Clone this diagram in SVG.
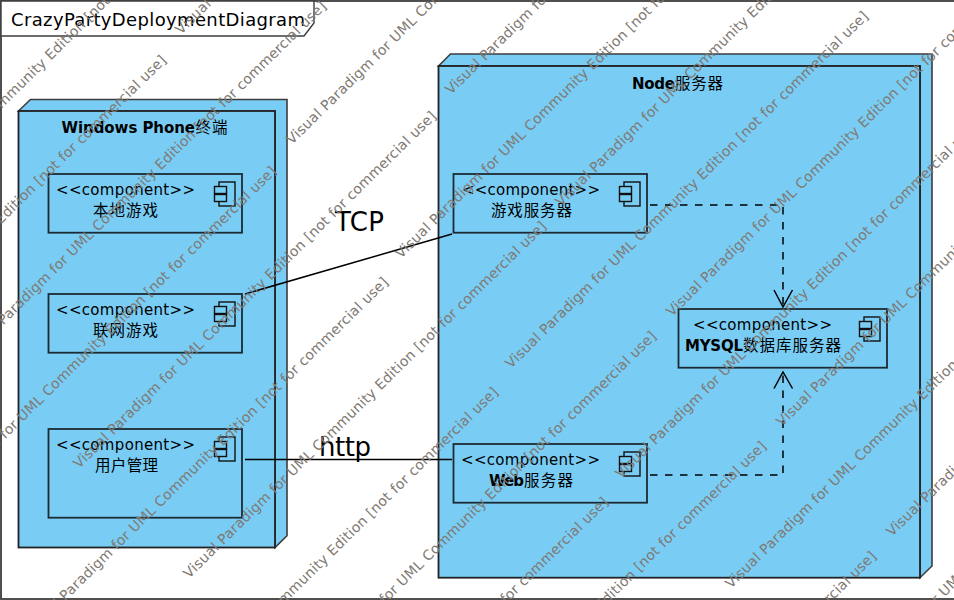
<svg xmlns="http://www.w3.org/2000/svg" width="954" height="600" viewBox="0 0 954 600">
<style>
text{font-family:"DejaVu Sans","Noto Sans CJK SC",sans-serif;fill:#000}
.node{fill:#79cdf5;stroke:#222;stroke-width:1.8}
.back{fill:#79cdf5;stroke:#3c3c3c;stroke-width:1.6}
.comp{fill:#79cdf5;stroke:#1c2a33;stroke-width:1.8}
.ic{fill:#79cdf5;stroke:#111;stroke-width:1.4}
.st{font-size:15px}
.nm{font-size:15.500px;font-family:"Noto Sans CJK SC","DejaVu Sans",sans-serif}
.b{font-size:15px;font-weight:bold}
.lbl{font-size:26px}
.con{fill:none;stroke:#000;stroke-width:1.5}
.dash{stroke-dasharray:7.5 7.5}
.wm{font-size:14px;fill:#7f7a74}
</style>
<defs>
<g id="icon">
<rect class="ic" x="-23" y="8" width="16" height="24"/>
<rect class="ic" x="-27.5" y="12.5" width="12" height="7"/>
<rect class="ic" x="-27.5" y="20.5" width="12" height="7"/>
</g>
</defs>
<rect width="954" height="600" fill="#fff"/>
<rect x="1" y="1" width="960" height="598" fill="#fff" stroke="#3c3c3c" stroke-width="1.8"/>
<g id="frame-title">
<path d="M1 1H314V23L304 36H1Z" fill="#fff" stroke="#3c3c3c" stroke-width="1.4"/>
<text x="11" y="26" font-size="18" textLength="294">CrazyPartyDeploymentDiagram</text>
</g>
<g id="node-windows-phone">
<path class="back" d="M18.500 111L30.500 99.500H287V535.700L275 547.500V111Z"/>
<rect class="node" x="18.500" y="111" width="256.500" height="436.500"/>
<text class="b" x="61.500" y="133" textLength="133.500">Windows Phone</text>
<text class="nm" x="195.500" y="133" textLength="32">终端</text>
</g>
<g id="node-server">
<path class="back" d="M438.500 66L450.500 54H932V566L920 577.700V66Z"/>
<rect class="node" x="438.500" y="66" width="481.500" height="511.700"/>
<text class="b" x="632" y="89" textLength="43">Node</text>
<text class="nm" x="675" y="89" textLength="48">服务器</text>
</g>
<g id="comp-local-game">
<rect class="comp" x="48.500" y="174" width="193.500" height="58.700"/>
<use href="#icon" transform="translate(242 174)"/>
<text class="st" x="56" y="195" textLength="139">&lt;&lt;component&gt;&gt;</text>
<text class="nm" x="93" y="216" textLength="65">本地游戏</text>
</g>
<g id="comp-online-game">
<rect class="comp" x="48.500" y="294" width="193.500" height="58.700"/>
<use href="#icon" transform="translate(242 294)"/>
<text class="st" x="56" y="315" textLength="139">&lt;&lt;component&gt;&gt;</text>
<text class="nm" x="93" y="336" textLength="65">联网游戏</text>
</g>
<g id="comp-user">
<rect class="comp" x="48.500" y="429" width="193.500" height="88.700"/>
<use href="#icon" transform="translate(242 429)"/>
<text class="st" x="56" y="450" textLength="139">&lt;&lt;component&gt;&gt;</text>
<text class="nm" x="95" y="471" textLength="63">用户管理</text>
</g>
<g id="comp-game-server">
<rect class="comp" x="453.500" y="174" width="193.500" height="58.700"/>
<use href="#icon" transform="translate(647 174)"/>
<text class="st" x="462" y="195" textLength="138">&lt;&lt;component&gt;&gt;</text>
<text class="nm" x="491" y="216" textLength="81">游戏服务器</text>
</g>
<g id="comp-web-server">
<rect class="comp" x="453.500" y="444" width="193.500" height="58.700"/>
<use href="#icon" transform="translate(647 444)"/>
<text class="st" x="461" y="465" textLength="139">&lt;&lt;component&gt;&gt;</text>
<text class="b" x="489" y="486" textLength="35">Web</text>
<text class="nm" x="524" y="486" textLength="49">服务器</text>
</g>
<g id="comp-mysql">
<rect class="comp" x="678.500" y="309" width="208.500" height="58.700"/>
<use href="#icon" transform="translate(887 309)"/>
<text class="st" x="693" y="330" textLength="139">&lt;&lt;component&gt;&gt;</text>
<text class="b" x="685" y="351" textLength="58">MYSQL</text>
<text class="nm" x="743" y="351" textLength="98">数据库服务器</text>
</g>
<g id="connectors">
<path class="con" d="M245 294L452 234"/>
<path class="con" d="M245 459.500H452"/>
<path class="con dash" d="M650 205H783V305"/>
<path class="con" d="M774 290L783 307L792.500 290"/>
<path class="con dash" d="M650 475H783V374"/>
<path class="con" d="M774 388.500L783 372L792.500 388.500"/>
<text class="lbl" x="335" y="231" textLength="49">TCP</text>
<text class="lbl" x="319" y="456" textLength="52">http</text>
</g>
<g id="watermark">
<text class="wm" textLength="502" transform="translate(181 35) rotate(-44.500)">Visual Paradigm for UML Community Edition [not for commercial use]</text>
<text class="wm" textLength="502" transform="translate(292 145) rotate(-44.500)">Visual Paradigm for UML Community Edition [not for commercial use]</text>
<text class="wm" textLength="502" transform="translate(401 259) rotate(-44.500)">Visual Paradigm for UML Community Edition [not for commercial use]</text>
<text class="wm" textLength="502" transform="translate(511 369) rotate(-44.500)">Visual Paradigm for UML Community Edition [not for commercial use]</text>
<text class="wm" textLength="502" transform="translate(621 479) rotate(-44.500)">Visual Paradigm for UML Community Edition [not for commercial use]</text>
<text class="wm" textLength="502" transform="translate(731 589) rotate(-44.500)">Visual Paradigm for UML Community Edition [not for commercial use]</text>
<text class="wm" textLength="502" transform="translate(841 699) rotate(-44.500)">Visual Paradigm for UML Community Edition [not for commercial use]</text>
<text class="wm" textLength="502" transform="translate(451 95) rotate(-44.500)">Visual Paradigm for UML Community Edition [not for commercial use]</text>
<text class="wm" textLength="502" transform="translate(561 207) rotate(-44.500)">Visual Paradigm for UML Community Edition [not for commercial use]</text>
<text class="wm" textLength="502" transform="translate(672 317) rotate(-44.500)">Visual Paradigm for UML Community Edition [not for commercial use]</text>
<text class="wm" textLength="502" transform="translate(782 427) rotate(-44.500)">Visual Paradigm for UML Community Edition [not for commercial use]</text>
<text class="wm" textLength="502" transform="translate(892 537) rotate(-44.500)">Visual Paradigm for UML Community Edition [not for commercial use]</text>
<text class="wm" textLength="502" transform="translate(-141 249) rotate(-44.500)">Visual Paradigm for UML Community Edition [not for commercial use]</text>
<text class="wm" textLength="502" transform="translate(-31 359) rotate(-44.500)">Visual Paradigm for UML Community Edition [not for commercial use]</text>
<text class="wm" textLength="502" transform="translate(79 469) rotate(-44.500)">Visual Paradigm for UML Community Edition [not for commercial use]</text>
<text class="wm" textLength="502" transform="translate(189 579) rotate(-44.500)">Visual Paradigm for UML Community Edition [not for commercial use]</text>
<text class="wm" textLength="502" transform="translate(299 689) rotate(-44.500)">Visual Paradigm for UML Community Edition [not for commercial use]</text>
<text class="wm" textLength="502" transform="translate(409 799) rotate(-44.500)">Visual Paradigm for UML Community Edition [not for commercial use]</text>
<text class="wm" textLength="502" transform="translate(519 909) rotate(-44.500)">Visual Paradigm for UML Community Edition [not for commercial use]</text>
<text class="wm" textLength="502" transform="translate(-191 413) rotate(-44.500)">Visual Paradigm for UML Community Edition [not for commercial use]</text>
<text class="wm" textLength="502" transform="translate(-81 524) rotate(-44.500)">Visual Paradigm for UML Community Edition [not for commercial use]</text>
<text class="wm" textLength="502" transform="translate(31 635) rotate(-44.500)">Visual Paradigm for UML Community Edition [not for commercial use]</text>
<text class="wm" textLength="502" transform="translate(141 745) rotate(-44.500)">Visual Paradigm for UML Community Edition [not for commercial use]</text>
<text class="wm" textLength="502" transform="translate(251 855) rotate(-44.500)">Visual Paradigm for UML Community Edition [not for commercial use]</text>
<text class="wm" textLength="502" transform="translate(361 965) rotate(-44.500)">Visual Paradigm for UML Community Edition [not for commercial use]</text>
<text class="wm" textLength="502" transform="translate(471 1075) rotate(-44.500)">Visual Paradigm for UML Community Edition [not for commercial use]</text>
</g>
</svg>
